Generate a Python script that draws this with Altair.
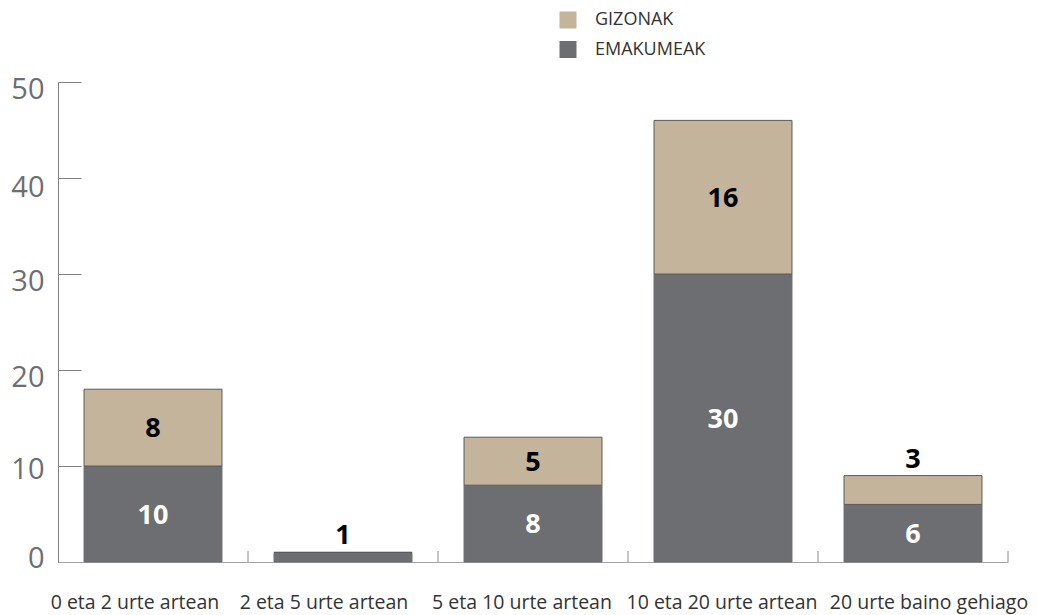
import altair as alt
import pandas as pd

categories = ["0 eta 2 urte artean", "2 eta 5 urte artean", "5 eta 10 urte artean",
              "10 eta 20 urte artean", "20 urte baino gehiago"]
emakumeak = [10, 1, 8, 30, 6]
gizonak = [8, 0, 5, 16, 3]
series = ["GIZONAK", "EMAKUMEAK"]
colors = ["#c4b49b", "#6d6e71"]
y_ticks = [0, 10, 20, 30, 40, 50]

rows = []
for c, e, g in zip(categories, emakumeak, gizonak):
    rows.append({"cat": c, "series": "EMAKUMEAK", "value": e, "order": 0})
    rows.append({"cat": c, "series": "GIZONAK", "value": g, "order": 1})
bars_df = pd.DataFrame(rows)

lab = []
for c, e, g in zip(categories, emakumeak, gizonak):
    total = e + g
    for s, v, base in (("EMAKUMEAK", e, 0), ("GIZONAK", g, e)):
        if v <= 0:
            continue
        if v >= 4:
            lab.append({"cat": c, "txt": str(v), "pos": base + v / 2, "where": "in", "series": s})
        else:
            lab.append({"cat": c, "txt": str(v), "pos": total, "where": "out", "series": s})
lab_df = pd.DataFrame(lab)
cat_df = pd.DataFrame({"cat": categories})

W, H = 950, 480
FONT = "Open Sans"
PAD_INNER = 0.274

xscale = alt.Scale(domain=categories, paddingInner=PAD_INNER, paddingOuter=PAD_INNER / 2)
yscale = alt.Scale(domain=[0, 50], nice=False)

x_label_offset = {
    "condition": [
        {"test": "datum.value === '0 eta 2 urte artean'", "value": -18},
        {"test": "datum.value === '2 eta 5 urte artean'", "value": -19},
        {"test": "datum.value === '5 eta 10 urte artean'", "value": -11},
        {"test": "datum.value === '20 urte baino gehiago'", "value": 16},
    ],
    "value": -1,
}
y_label_offset = {
    "condition": [
        {"test": "datum.value === 0", "value": -4},
        {"test": "datum.value === 10", "value": 3.5},
        {"test": "datum.value === 40", "value": 9},
    ],
    "value": 7.5,
}

x_axis = alt.Axis(title=None, labelAngle=0, labelFont=FONT, labelFontSize=19.5,
                  labelColor="#333333", labelPadding=31.5, ticks=False, tickSize=0,
                  domainColor="#a6a6a6", domainWidth=1, labelOverlap=False,
                  labelLimit=0, grid=False, labelOffset=x_label_offset)
y_axis = alt.Axis(title=None, values=y_ticks, labelFont=FONT, labelFontSize=29,
                  labelColor="#6d6e71", labelPadding=14, ticks=False, tickSize=0,
                  domainColor="#808080", domainWidth=1, grid=True,
                  gridDash=[23, 3000], gridColor="#808080", gridWidth=1,
                  labelOffset=y_label_offset)

x_enc = alt.X("cat:N", scale=xscale, sort=categories, axis=x_axis, title=None)

bars = alt.Chart(bars_df).mark_bar(strokeWidth=1).encode(
    x=x_enc,
    y=alt.Y("value:Q", stack="zero", scale=yscale, axis=y_axis, title=None),
    color=alt.Color("series:N", scale=alt.Scale(domain=series, range=colors),
                    legend=alt.Legend(title=None, orient="none", legendX=501, legendY=-71,
                                      symbolType="square", symbolSize=289,
                                      symbolStrokeWidth=0, labelFont=FONT,
                                      labelFontSize=18, labelColor="#333333",
                                      labelOffset=18, rowPadding=11.5, padding=0)),
    stroke=alt.Stroke("series:N", scale=alt.Scale(domain=series, range=["#5a5a5a", "#6d6e71"]),
                      legend=None),
    order=alt.Order("order:Q"),
)

inside = alt.Chart(lab_df).transform_filter("datum.where === 'in'").mark_text(
    font=FONT, fontSize=27, fontWeight="bold", baseline="middle", dy=1.5
).encode(
    x=x_enc,
    y=alt.Y("pos:Q", scale=yscale, axis=y_axis, title=None),
    text="txt:N",
    color=alt.Color("series:N", scale=alt.Scale(domain=series, range=["#000000", "#ffffff"]),
                    legend=None),
)

above = alt.Chart(lab_df).transform_filter("datum.where === 'out'").mark_text(
    font=FONT, fontSize=27, fontWeight="bold", baseline="alphabetic", dy=-8, color="#000000"
).encode(
    x=x_enc,
    y=alt.Y("pos:Q", scale=yscale, axis=y_axis, title=None),
    text="txt:N",
)

main = alt.layer(bars, inside, above).resolve_scale(color="independent")

# short upward ticks on the band boundaries (after each band), on the baseline
tick_layer = alt.Chart(cat_df).mark_rule(
    color="#8c8c8c", strokeWidth=1, xOffset=PAD_INNER * (W / len(categories)) / 2
).encode(
    x=alt.X("cat:N", scale=xscale, sort=categories, bandPosition=1, axis=None),
    y=alt.value(H - 11),
    y2=alt.value(H),
)

chart = alt.layer(main, tick_layer).resolve_scale(x="independent").properties(
    width=W, height=H,
    autosize=alt.AutoSizeParams(type="none"),
    padding={"left": 50, "top": 74, "right": 21, "bottom": 53},
).configure(background="white").configure_view(stroke=None)

chart.save("out.html", embed_options={"renderer": "svg", "actions": False})
